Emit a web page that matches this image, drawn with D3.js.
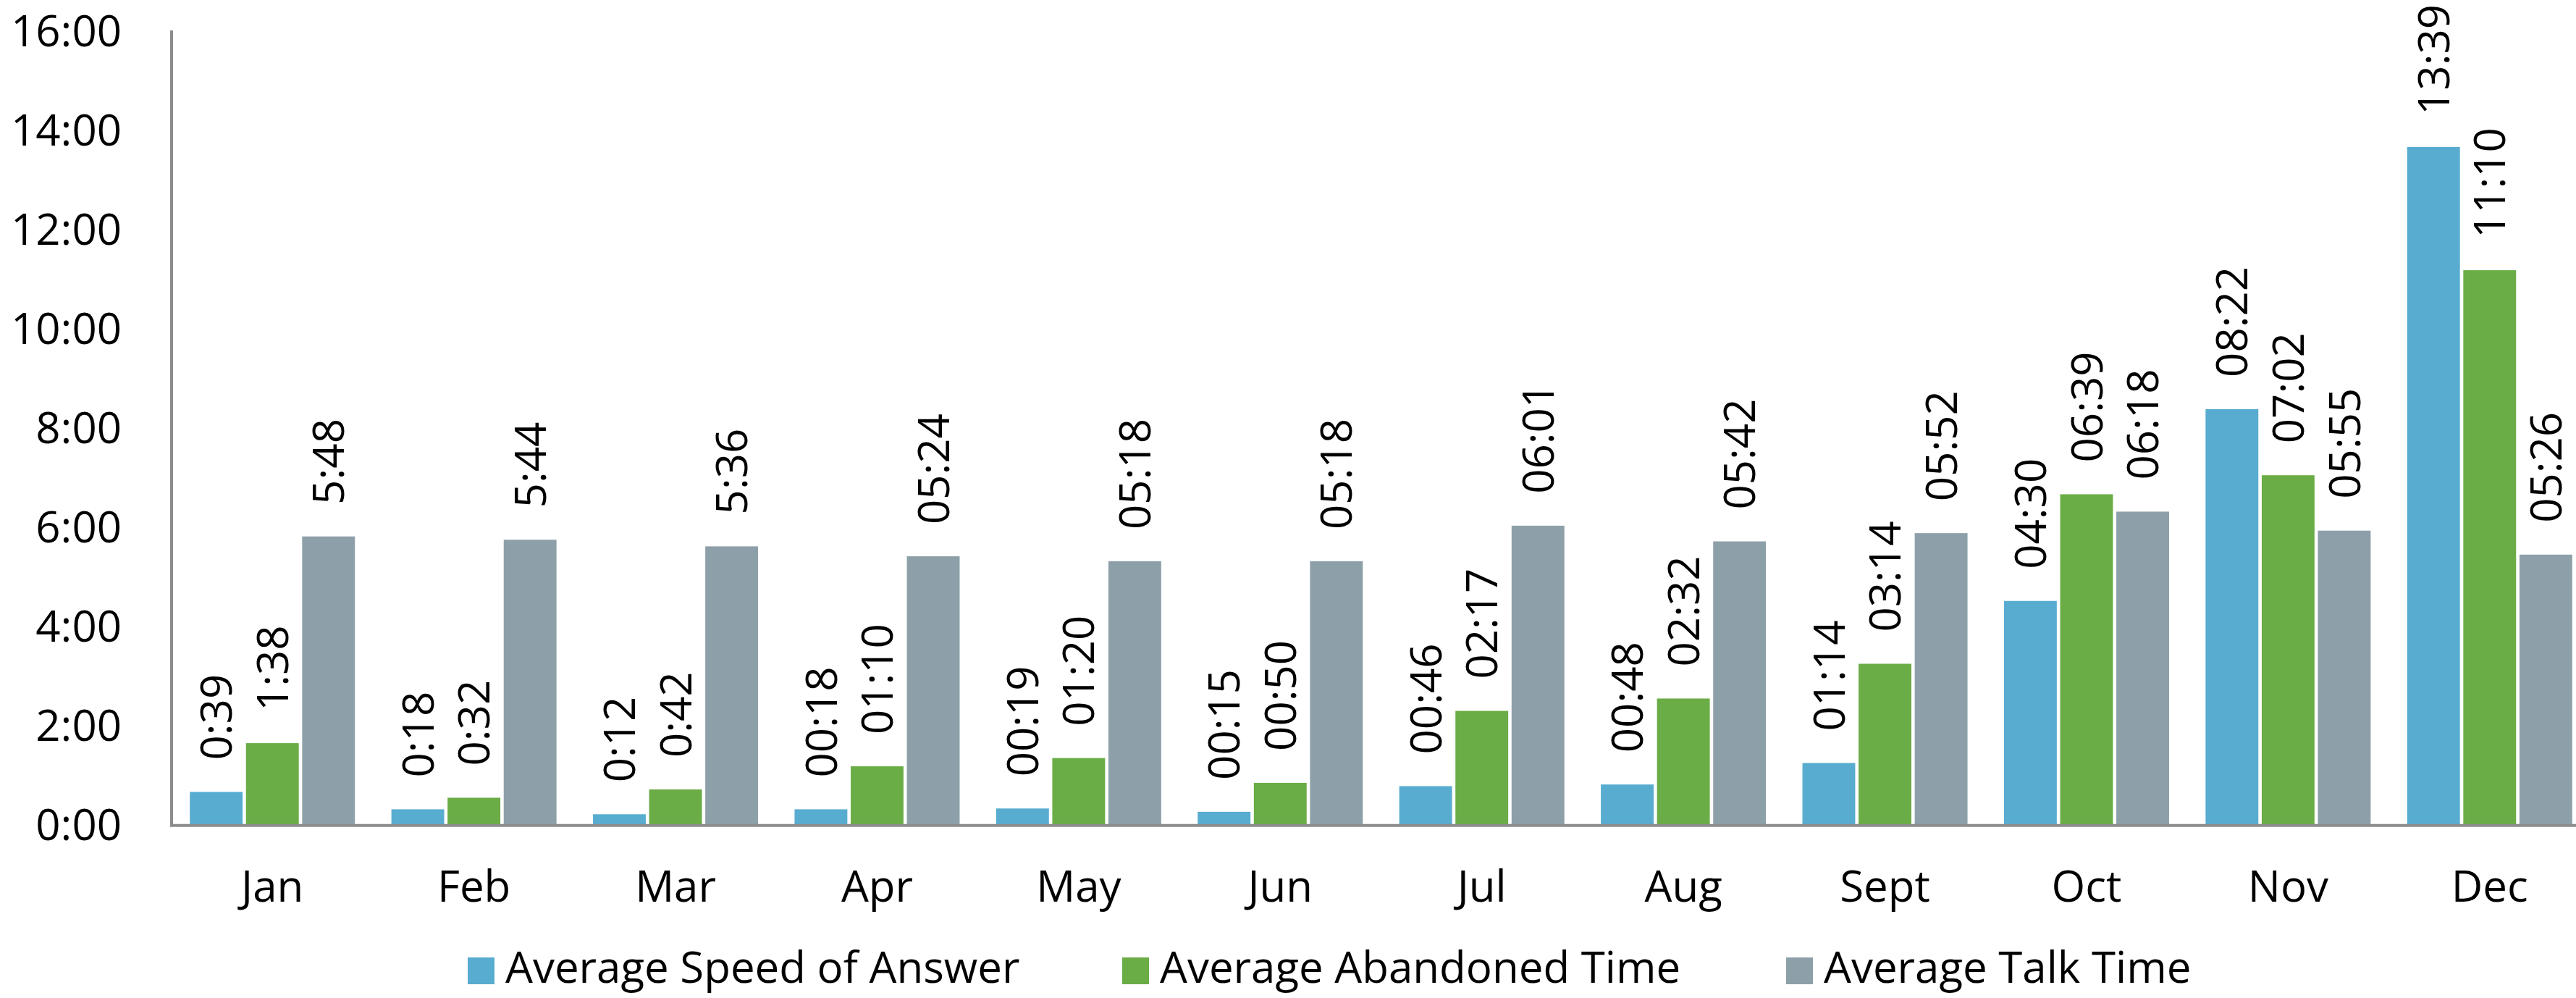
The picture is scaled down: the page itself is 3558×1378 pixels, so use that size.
<!DOCTYPE html>
<html>
<head>
<meta charset="utf-8">
<script src="https://cdn.jsdelivr.net/npm/d3@7"></script>
<style>
  body { margin: 0; background: #fff; }
  text { font-family: "Open Sans", sans-serif; fill: #000; }
</style>
</head>
<body>
<svg id="chart"></svg>
<script>
// Call centre times per month (mm:ss, as printed on the bars)
const months = ["Jan", "Feb", "Mar", "Apr", "May", "Jun", "Jul", "Aug", "Sept", "Oct", "Nov", "Dec"];
const seriesNames = ["Average Speed of Answer", "Average Abandoned Time", "Average Talk Time"];
const speedOfAnswer = ["0:39", "0:18", "0:12", "00:18", "00:19", "00:15", "00:46", "00:48", "01:14", "04:30", "08:22", "13:39"];
const abandonedTime = ["1:38", "0:32", "0:42", "01:10", "01:20", "00:50", "02:17", "02:32", "03:14", "06:39", "07:02", "11:10"];
const talkTime = ["5:48", "5:44", "5:36", "05:24", "05:18", "05:18", "06:01", "05:42", "05:52", "06:18", "05:55", "05:26"];
const yTicks = [0, 2, 4, 6, 8, 10, 12, 14, 16];

const colors = ["#57acd0", "#6aad46", "#8da0a9"];
const width = 3558, height = 1378;
const fontSize = 60;

// "m:ss" -> minutes
const toMinutes = s => {
    const [m, sec] = s.split(":").map(Number);
    return m + sec / 60;
};

const series = [speedOfAnswer, abandonedTime, talkTime];
const data = months.map((m, i) => ({
    month: m,
    values: series.map((s, k) => ({ key: seriesNames[k], k: k, label: s[i], v: toMinutes(s[i]) }))
}));

const svg = d3.select("#chart")
    .attr("width", width)
    .attr("height", height)
    .attr("viewBox", [0, 0, width, height]);

const plotLeft = 237, plotRight = 3578, plotTop = 42, plotBottom = 1138;

const x0 = d3.scaleBand()
    .domain(months)
    .range([plotLeft, plotRight])
    .paddingInner(0.181)
    .paddingOuter(0.0905);

const x1 = d3.scaleBand()
    .domain(d3.range(3))
    .range([0, x0.bandwidth()])
    .paddingInner(0.06);

const y = d3.scaleLinear()
    .domain([0, 16])
    .range([plotBottom, plotTop]);

// bars
const groups = svg.append("g")
    .selectAll("g")
    .data(data)
    .join("g")
    .attr("transform", d => `translate(${x0(d.month)},0)`);

groups.selectAll("rect")
    .data(d => d.values)
    .join("rect")
    .attr("x", d => x1(d.k))
    .attr("y", d => y(d.v))
    .attr("width", x1.bandwidth())
    .attr("height", d => y(0) - y(d.v))
    .attr("fill", d => colors[d.k]);

// value labels, rotated
groups.selectAll("text")
    .data(d => d.values)
    .join("text")
    .attr("transform", d => `translate(${x1(d.k) + x1.bandwidth() / 2},${y(d.v) - 44}) rotate(-90)`)
    .attr("dy", "0.36em")
    .style("font-size", fontSize + "px")
    .text(d => d.label);

// y axis
const yAxis = svg.append("g")
    .attr("transform", `translate(${plotLeft},0)`)
    .call(d3.axisLeft(y).tickValues(yTicks).tickSize(0).tickPadding(69).tickFormat(d => d + ":00"));
yAxis.select(".domain").attr("stroke", "#8c8c8c").attr("stroke-width", 4)
    .attr("d", `M0,${plotTop}V${plotBottom + 3.5}`);
yAxis.selectAll("text").style("font-size", fontSize + "px").attr("dy", "0.36em").attr("fill", "#000");

// x axis
const xAxis = svg.append("g")
    .attr("transform", `translate(0,${plotBottom + 1.7})`)
    .call(d3.axisBottom(x0).tickSize(0).tickPadding(0));
xAxis.select(".domain").attr("stroke", "#8c8c8c").attr("stroke-width", 4)
    .attr("d", `M${plotLeft - 2},0H${width}`);
xAxis.selectAll("text").style("font-size", fontSize + "px")
    .attr("dy", null).attr("y", 105).attr("fill", "#000");

// legend
const legendX = [646, 1550, 2467];
const legend = svg.append("g")
    .selectAll("g")
    .data(seriesNames)
    .join("g")
    .attr("transform", (d, i) => `translate(${legendX[i]},1322)`);

legend.append("rect")
    .attr("width", 37)
    .attr("height", 37)
    .attr("fill", (d, i) => colors[i]);

legend.append("text")
    .attr("x", 52)
    .attr("y", 35)
    .style("font-size", fontSize + "px")
    .text(d => d);
</script>
</body>
</html>
